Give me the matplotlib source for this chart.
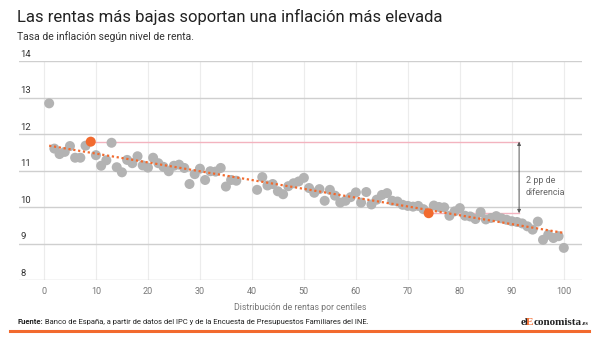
import matplotlib
matplotlib.use("Agg")
import matplotlib.pyplot as plt
import numpy as np

# ---------------- data ----------------
centiles = [1, 2, 3, 4, 5, 6, 7, 8, 9, 10, 11, 12, 13, 14, 15, 16, 17, 18, 19, 20,
            21, 22, 23, 24, 25, 26, 27, 28, 29, 30, 31, 32, 33, 34, 35, 36, 37,
            41, 42, 43, 44, 45, 46, 47, 48, 49, 50, 51, 52, 53, 54, 55, 56, 57, 58, 59, 60,
            61, 62, 63, 64, 65, 66, 67, 68, 69, 70, 71, 72, 73, 74, 75, 76, 77, 78, 79, 80,
            81, 82, 83, 84, 85, 86, 87, 88, 89, 90, 91, 92, 93, 94, 95, 96, 97, 98, 99, 100]
inflation = [12.84, 11.60, 11.45, 11.51, 11.67, 11.35, 11.35, 11.68, 11.79, 11.42,
             11.13, 11.28, 11.76, 11.09, 10.95, 11.29, 11.20, 11.39, 11.14, 11.08,
             11.35, 11.20, 11.10, 10.98, 11.13, 11.16, 11.07, 10.63, 10.90, 11.05,
             10.74, 10.98, 10.97, 11.07, 10.56, 10.74, 10.72,
             10.47, 10.82, 10.59, 10.63, 10.43, 10.35, 10.57, 10.65, 10.70, 10.80,
             10.52, 10.39, 10.49, 10.17, 10.47, 10.31, 10.12, 10.17, 10.27, 10.40,
             10.12, 10.41, 10.07, 10.20, 10.33, 10.38, 10.17, 10.15, 10.06, 10.03,
             10.01, 10.03, 9.94, 9.83, 10.04, 10.00, 9.99, 9.76, 9.88, 9.97,
             9.76, 9.74, 9.67, 9.86, 9.66, 9.70, 9.75, 9.69, 9.65, 9.61,
             9.59, 9.55, 9.47, 9.38, 9.60, 9.10, 9.24, 9.15, 9.20, 8.88]
highlight = [9, 74]
trend_x = [1, 100]
trend_y = [11.68, 9.29]
gap_end = 91.4
x_ticks = [0, 10, 20, 30, 40, 50, 60, 70, 80, 90, 100]
y_ticks = [8, 9, 10, 11, 12, 13, 14]

title = "Las rentas más bajas soportan una inflación más elevada"
subtitle = "Tasa de inflación según nivel de renta."
xlabel = "Distribución de rentas por centiles"
source_bold = "Fuente:"
source_text = " Banco de España, a partir de datos del IPC y de la Encuesta de Presupuestos Familiares del INE."
gap_label = "2 pp de\ndiferencia"

plt.rcParams['font.family'] = ['Roboto', 'DejaVu Sans']

ORANGE = "#f26a2e"
GREY = "#b3b3b3"
PINK = "#f3b3bf"

fig = plt.figure(figsize=(6, 3.5), dpi=100)
ax = fig.add_axes([19/600, 1-280/350, 563/600, (280-61)/350])
ax.set_xlim(-4.8, 103.5)
ax.set_ylim(8, 14)
for s in ax.spines.values():
    s.set_visible(False)

# grid
for v in x_ticks:
    ax.axvline(v, color="#ececec", lw=0.8, zorder=0)
for v in y_ticks:
    ax.axhline(v, color="#cfcfcf", lw=1.0, zorder=0)

ax.set_xticks(x_ticks)
ax.set_xticklabels([str(v) for v in x_ticks], color="#777777", fontsize=6.5)
ax.tick_params(axis='x', length=0, pad=5)
ax.set_yticks([])
for v in y_ticks:
    ax.text(-4.6, v + 0.06, str(v), fontsize=6.8, color="#333333", ha="left", va="bottom")
ax.set_xlabel(xlabel, color="#777777", fontsize=6.3, labelpad=5)

# points
cx = np.array(centiles)
cy = np.array(inflation)
hmask = np.isin(cx, highlight)
ax.scatter(cx[~hmask], cy[~hmask], s=52, color=GREY, edgecolors="none", zorder=3)

# trend
ax.plot(trend_x, trend_y, color=ORANGE, lw=1.6, linestyle=(0, (1, 1.2)), zorder=4)

# highlights and gap lines
hx = cx[hmask]
hy = cy[hmask]
for x0, y0 in zip(hx, hy):
    ax.plot([x0, gap_end], [y0, y0], color=PINK, lw=1.0, zorder=2)
ax.scatter(hx, hy, s=52, color=ORANGE, edgecolors="none", zorder=5)
ax.annotate("", xy=(gap_end, hy.min()), xytext=(gap_end, hy.max()),
            arrowprops=dict(arrowstyle="<|-|>", color="#555555", lw=0.7,
                            mutation_scale=5, shrinkA=0, shrinkB=0), zorder=6)
ax.text(gap_end + 1.3, (hy.min() + hy.max()) / 2 - 0.25, gap_label, fontsize=6.5,
        color="#666666", ha="left", va="center", linespacing=1.4)

# titles
fig.text(17/600, 1-17/350, title, fontsize=12, color="#222222", ha="left", va="center")
fig.text(17/600, 1-37/350, subtitle, fontsize=7.5, color="#333333", ha="left", va="center")

# footer
fig.canvas.draw()
r = fig.canvas.get_renderer()
t1 = fig.text(17/600, 1-322/350, source_bold, fontsize=5.5, fontweight="bold",
              color="#222222", ha="left", va="center")
bb = t1.get_window_extent(renderer=r)
fig.text(bb.x1 / fig.bbox.width, 1-322/350, source_text, fontsize=5.5,
         color="#222222", ha="left", va="center")

# logo
lx = 521
parts = [("el", "#222222", 8, 3.0), ("E", ORANGE, 8, 0.0),
         ("conomista", "#222222", 8, 0.0), (".es", "#222222", 4.5, 0)]
for txt, col, fs, trim in parts:
    t = fig.text(lx/600, 1-325/350, txt, fontsize=fs, color=col, fontweight="bold",
                 family=["Liberation Serif", "DejaVu Serif"], ha="left", va="baseline")
    lx = t.get_window_extent(renderer=r).x1 - trim

fig.add_artist(plt.Line2D([10/600, 589/600], [1-331/350, 1-331/350], color=ORANGE, lw=2.2))

fig.savefig("out.png", dpi=100, facecolor="white")
